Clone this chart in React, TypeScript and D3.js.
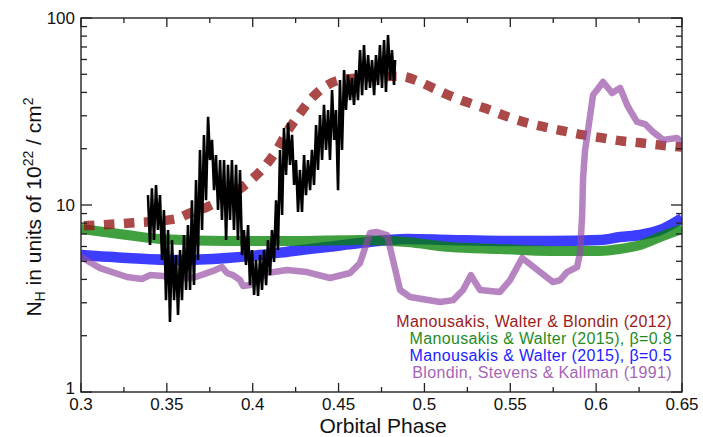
import React from "react";
import * as d3 from "d3";

const W = 703;
const H = 437;
const PLOT = { left: 81, right: 682, top: 18, bottom: 392 };

// Axis ticks
const phaseTicks = [0.3, 0.35, 0.4, 0.45, 0.5, 0.55, 0.6, 0.65];
const phaseTickLabels = ["0.3", "0.35", "0.4", "0.45", "0.5", "0.55", "0.6", "0.65"];
const phaseMinorTicks = [0.325, 0.375, 0.425, 0.475, 0.525, 0.575, 0.625];
const nhTicks = [1, 10, 100];
const nhTickLabels = ["1", "10", "100"];
const nhMinorTicks = [2, 3, 4, 5, 6, 7, 8, 9, 20, 30, 40, 50, 60, 70, 80, 90];

// Manousakis, Walter & Blondin (2012)
const mwbPhase = [0.3, 0.3285, 0.3547, 0.3635, 0.3734, 0.3868, 0.3908, 0.4002, 0.4083, 0.4141, 0.42, 0.4264, 0.4334, 0.441, 0.4508, 0.4625, 0.4858, 0.4974, 0.5062, 0.5167, 0.5277, 0.5382, 0.5487, 0.5598, 0.5702, 0.5807, 0.5924, 0.604, 0.6151, 0.6256, 0.6372, 0.65];
const mwbNH = [7.72, 8.01, 8.41, 9.06, 9.75, 11.3, 11.9, 13.9, 16.6, 19.7, 24.6, 29.9, 36.4, 42.3, 46.6, 47.8, 48.8, 45.5, 41.7, 37.8, 34.7, 32.2, 29.6, 27.5, 26.1, 24.9, 23.7, 22.8, 22.0, 21.5, 20.9, 20.4];

// Manousakis & Walter (2015), beta = 0.8
const mw08Phase = [0.3, 0.3268, 0.346, 0.385, 0.4235, 0.4625, 0.4899, 0.5149, 0.544, 0.5731, 0.6023, 0.6139, 0.6256, 0.6372, 0.65];
const mw08NH = [7.44, 6.91, 6.58, 6.42, 6.42, 6.5, 6.34, 5.96, 5.82, 5.68, 5.68, 5.82, 6.11, 6.74, 7.44];

// Manousakis & Walter (2015), beta = 0.5
const mw05Phase = [0.3, 0.3268, 0.3559, 0.385, 0.4043, 0.4235, 0.4433, 0.4625, 0.4899, 0.5149, 0.544, 0.5731, 0.6023, 0.6139, 0.6256, 0.6372, 0.65];
const mw05NH = [5.4, 5.21, 5.08, 5.21, 5.4, 5.68, 5.96, 6.26, 6.58, 6.5, 6.42, 6.42, 6.5, 6.74, 6.91, 7.35, 8.51];

// Blondin, Stevens & Kallman (1991)
const bskPhase = [0.3, 0.3111, 0.3268, 0.3355, 0.3402, 0.3478, 0.3536, 0.3652, 0.3769, 0.3821, 0.385, 0.3885, 0.3926, 0.3944, 0.3984, 0.4025, 0.4083, 0.42, 0.4316, 0.445, 0.4567, 0.4625, 0.4683, 0.4724, 0.4782, 0.4817, 0.4858, 0.4916, 0.5091, 0.5167, 0.5225, 0.5271, 0.5295, 0.5324, 0.544, 0.5499, 0.5569, 0.5673, 0.5749, 0.579, 0.583, 0.5889, 0.5906, 0.5918, 0.5924, 0.5935, 0.5953, 0.5982, 0.6005, 0.604, 0.6093, 0.6139, 0.6157, 0.618, 0.6197, 0.6238, 0.6285, 0.6331, 0.639, 0.6471, 0.65];
const bskNH = [5.27, 4.6, 4.12, 4.02, 4.22, 4.17, 4.07, 4.07, 4.44, 4.66, 4.33, 4.22, 3.97, 3.69, 3.73, 3.97, 4.33, 4.49, 4.38, 4.07, 4.33, 4.9, 7.08, 7.17, 6.91, 5.08, 3.51, 3.22, 3.03, 3.1, 3.51, 4.22, 3.87, 3.51, 3.43, 3.97, 5.21, 4.38, 3.87, 3.97, 4.38, 4.66, 5.54, 8.6, 14.0, 19.5, 25.2, 38.7, 41.2, 45.5, 39.7, 42.3, 38.7, 34.3, 32.2, 27.8, 27.1, 24.6, 22.3, 22.8, 21.7];

// Observed column density (alternating high / low readings)
const obsPhase = [
  0.339, 0.3402, 0.3413, 0.3425, 0.3437, 0.3448, 0.346, 0.3472, 0.3483, 0.3495,
  0.3507, 0.3518, 0.353, 0.3542, 0.3553, 0.3565, 0.3577, 0.3588, 0.36, 0.3612,
  0.3623, 0.3635, 0.3646, 0.3658, 0.367, 0.3681, 0.3693, 0.3705, 0.3716, 0.3728,
  0.374, 0.3751, 0.3763, 0.3775, 0.3786, 0.3798, 0.381, 0.3821, 0.3833, 0.3845,
  0.3856, 0.3868, 0.3879, 0.3891, 0.3903, 0.3914, 0.3926, 0.3938, 0.3949, 0.3961,
  0.3973, 0.3984, 0.3996, 0.4008, 0.4019, 0.4031, 0.4043, 0.4054, 0.4066, 0.4078,
  0.4089, 0.4101, 0.4112, 0.4124, 0.4136, 0.4147, 0.4159, 0.4171, 0.4182, 0.4194,
  0.4206, 0.4217, 0.4229, 0.4241, 0.4252, 0.4264, 0.4275, 0.4287, 0.4299, 0.431,
  0.4322, 0.4334, 0.4345, 0.4357, 0.4369, 0.438, 0.4392, 0.4404, 0.4415, 0.4427,
  0.4439, 0.445, 0.4462, 0.4474, 0.4485, 0.4497, 0.4508, 0.452, 0.4532, 0.4543,
  0.4555, 0.4567, 0.4578, 0.459, 0.4602, 0.4613, 0.4625, 0.4637, 0.4648, 0.466,
  0.4672, 0.4683, 0.4695, 0.4707, 0.4718, 0.473, 0.4741, 0.4753, 0.4765, 0.4776,
  0.4788, 0.48, 0.4811, 0.4823, 0.4829,
];
const obsNH = [
  11.3, 6.11, 12.3, 6.5, 12.8, 7.35, 11.3, 5.08, 9.4, 3.1,
  7.35, 2.37, 6.5, 3.1, 5.4, 2.58, 5.74, 3.1, 6.91, 3.51,
  7.82, 3.51, 10.6, 3.73, 13.6, 5.08, 19.7, 7.35, 23.7, 10.6,
  29.6, 17.4, 22.3, 12.0, 18.5, 9.4, 17.4, 8.31, 17.4, 6.5,
  16.4, 8.31, 17.4, 7.35, 16.4, 6.5, 15.4, 5.4, 7.35, 4.78,
  7.82, 3.73, 5.74, 3.3, 5.08, 3.26, 5.4, 3.51, 5.74, 3.73,
  6.5, 4.22, 7.35, 4.96, 10.6, 5.74, 19.7, 8.85, 25.8, 14.5,
  27.5, 16.4, 23.7, 12.8, 17.4, 9.18, 15.4, 9.18, 18.5, 11.3,
  17.4, 12.0, 19.7, 12.8, 26.8, 15.4, 30.3, 17.4, 34.3, 19.7,
  32.2, 17.4, 41.2, 22.3, 32.2, 12.0, 46.6, 19.7, 52.7, 32.2,
  49.6, 36.4, 47.8, 34.3, 52.7, 36.4, 67.4, 38.7, 71.7, 41.2,
  63.4, 42.3, 59.6, 38.7, 63.4, 43.8, 71.7, 42.3, 76.3, 40.2,
  81.1, 46.6, 67.4, 43.8, 59.6,
];

const legendLabels = [
  "Manousakis, Walter & Blondin (2012)",
  "Manousakis & Walter (2015), β=0.8",
  "Manousakis & Walter (2015), β=0.5",
  "Blondin, Stevens & Kallman (1991)",
];
const legendColors = ["#9b1b1b", "#1f8c1f", "#1d1dff", "#a565b5"];

const FONT = "'Liberation Sans', Arial, Helvetica, sans-serif";

export default function App() {
  const x = d3.scaleLinear().domain([0.3, 0.65]).range([PLOT.left, PLOT.right]);
  const y = d3.scaleLog().domain([1, 100]).range([PLOT.bottom, PLOT.top]);

  const smooth = d3
    .line<[number, number]>()
    .x((d) => x(d[0]))
    .y((d) => y(d[1]))
    .curve(d3.curveMonotoneX);
  const straight = d3
    .line<[number, number]>()
    .x((d) => x(d[0]))
    .y((d) => y(d[1]));

  const zip = (a: number[], b: number[]) => a.map((v, i) => [v, b[i]] as [number, number]);

  const redPath = smooth(zip(mwbPhase, mwbNH)) || "";
  const greenPath = smooth(zip(mw08Phase, mw08NH)) || "";
  const bluePath = smooth(zip(mw05Phase, mw05NH)) || "";
  const purplePath = straight(zip(bskPhase, bskNH)) || "";
  const obsPath = straight(zip(obsPhase, obsNH)) || "";

  const axisColor = "#222";
  const majorY = 11;
  const minorY = 6;
  const majorX = 9;
  const minorX = 5;

  return (
    <div style={{ position: "absolute", left: 0, top: 0 }}>
      <svg width={W} height={H} style={{ display: "block", background: "#fff" }} fontFamily={FONT}>
        <defs>
          <clipPath id="plotArea">
            <rect x={PLOT.left} y={PLOT.top} width={PLOT.right - PLOT.left} height={PLOT.bottom - PLOT.top} />
          </clipPath>
        </defs>

        <g clipPath="url(#plotArea)" fill="none">
          <path d={bluePath} stroke="#0000ff" strokeOpacity={0.76} strokeWidth={10.5} />
          <path d={greenPath} stroke="#008000" strokeOpacity={0.75} strokeWidth={10} />
          <path
            d={redPath}
            stroke="#941414"
            strokeOpacity={0.78}
            strokeWidth={9.5}
            strokeDasharray="10.5 9.5"
            strokeDashoffset={-3}
          />
          <path
            d={purplePath}
            stroke="#944aa2"
            strokeOpacity={0.68}
            strokeWidth={6.5}
            strokeLinejoin="round"
            strokeLinecap="round"
          />
          <path d={obsPath} stroke="#000" strokeWidth={2.6} strokeLinejoin="miter" strokeMiterlimit={3} />
        </g>

        {/* frame */}
        <rect
          x={PLOT.left}
          y={PLOT.top}
          width={PLOT.right - PLOT.left}
          height={PLOT.bottom - PLOT.top}
          fill="none"
          stroke={axisColor}
          strokeWidth={1.4}
        />

        {/* x ticks, bottom and top; y ticks, left and right */}
        <g stroke={axisColor} strokeWidth={1.3}>
          {phaseTicks.map((t) => (
            <g key={"xm" + t}>
              <line x1={x(t)} x2={x(t)} y1={PLOT.bottom} y2={PLOT.bottom - majorX} />
              <line x1={x(t)} x2={x(t)} y1={PLOT.top} y2={PLOT.top + majorX} />
            </g>
          ))}
          {phaseMinorTicks.map((t) => (
            <g key={"xn" + t}>
              <line x1={x(t)} x2={x(t)} y1={PLOT.bottom} y2={PLOT.bottom - minorX} />
              <line x1={x(t)} x2={x(t)} y1={PLOT.top} y2={PLOT.top + minorX} />
            </g>
          ))}
          {nhTicks.map((t) => (
            <g key={"ym" + t}>
              <line x1={PLOT.left} x2={PLOT.left + majorY} y1={y(t)} y2={y(t)} />
              <line x1={PLOT.right} x2={PLOT.right - majorY} y1={y(t)} y2={y(t)} />
            </g>
          ))}
          {nhMinorTicks.map((t) => (
            <g key={"yn" + t}>
              <line x1={PLOT.left} x2={PLOT.left + minorY} y1={y(t)} y2={y(t)} />
              <line x1={PLOT.right} x2={PLOT.right - minorY} y1={y(t)} y2={y(t)} />
            </g>
          ))}
        </g>

        {/* tick labels */}
        <g fontSize={17} fill="#111">
          {phaseTicks.map((t, i) => (
            <text key={"xl" + t} x={x(t)} y={410} textAnchor="middle">
              {phaseTickLabels[i]}
            </text>
          ))}
          {nhTicks.map((t, i) => (
            <text key={"yl" + t} x={75} y={y(t) + (t === 1 ? 2 : 6)} textAnchor="end">
              {nhTickLabels[i]}
            </text>
          ))}
        </g>

        {/* axis titles */}
        <text x={383} y={433} textAnchor="middle" fontSize={21} fill="#111">
          Orbital Phase
        </text>
        <text
          transform="translate(41,207) rotate(-90)"
          textAnchor="middle"
          fontSize={21}
          fill="#111"
        >
          N
          <tspan fontSize={14} dy={4}>H</tspan>
          <tspan dy={-4}> in units of 10</tspan>
          <tspan fontSize={14} dy={-8}>22</tspan>
          <tspan dy={8}> / cm</tspan>
          <tspan fontSize={14} dy={-8}>2</tspan>
        </text>

        {/* legend */}
        <g fontSize={16} letterSpacing={0.35} textAnchor="end">
          {legendLabels.map((l, i) => (
            <text key={l} x={672} y={327 + i * 17} fill={legendColors[i]}>
              {l}
            </text>
          ))}
        </g>
      </svg>
    </div>
  );
}
